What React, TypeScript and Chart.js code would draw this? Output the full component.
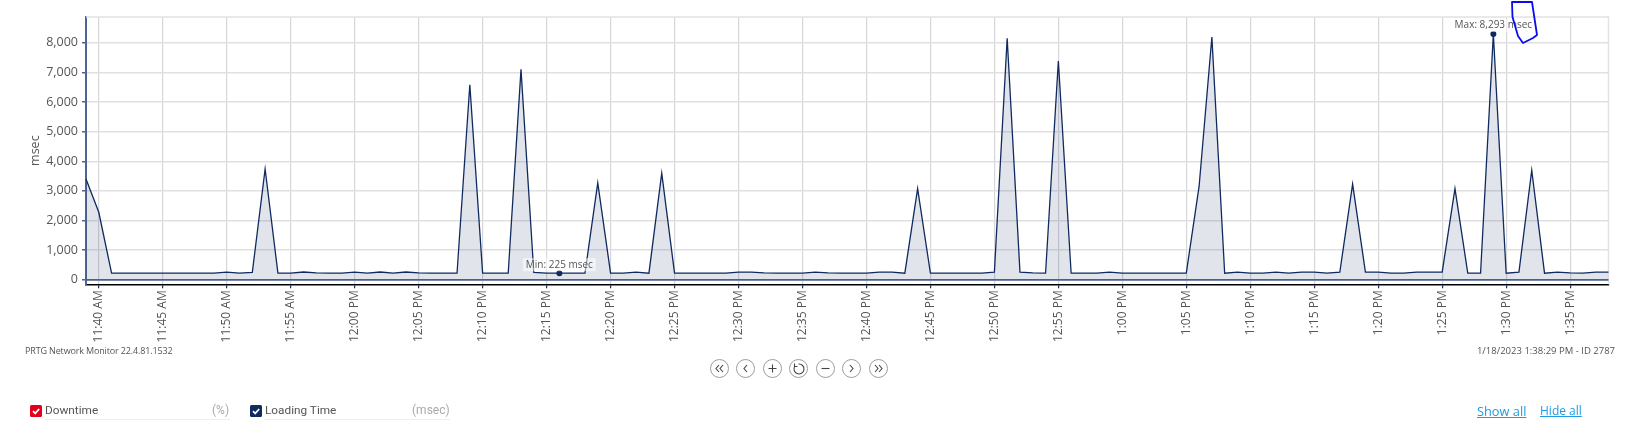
import React, { useEffect, useRef } from "react";
import { Chart, registerables } from "chart.js";

Chart.register(...registerables);

const FONT = '"Open Sans", "Noto Sans", sans-serif';
const LEGEND_FONT = 'Roboto, "Open Sans", sans-serif';

const startMinute = 11 * 60 + 39;
const loadingAM = [3400, 2280, 225, 225, 225, 225, 225, 225, 225, 225, 225, 260, 225, 250, 3740, 225, 228, 265, 232, 225, 225];
const loadingNoon = [
  262, 225, 265, 225, 265, 232, 225, 225, 225, 6580,
  225, 225, 225, 7100, 250, 230, 225, 225, 225, 3270,
  225, 228, 260, 225, 3600, 225, 225, 225, 225, 228,
  262, 262, 232, 225, 225, 225, 262, 232, 225, 225,
  225, 260, 262, 225, 3080, 225, 225, 225, 225, 228,
  262, 8150, 262, 232, 225, 7380, 225, 225, 228, 262,
];
const loadingOne = [
  228, 225, 225, 225, 225, 225, 3150, 8190, 225, 262,
  228, 225, 262, 228, 262, 262, 228, 262, 3230, 262,
  262, 228, 225, 262, 262, 262, 3080, 225, 225, 8293,
  225, 262, 3700, 225, 262, 232, 225, 262, 262,
];
const loadingTime = [...loadingAM, ...loadingNoon, ...loadingOne];
const downtime = loadingTime.map(() => 0);

const fmt = (m: number) => {
  const h = Math.floor(m / 60);
  const mm = String(m % 60).padStart(2, "0");
  return `${h > 12 ? h - 12 : h}:${mm} ${h >= 12 ? "PM" : "AM"}`;
};
const categories = loadingTime.map((_, i) => fmt(startMinute + i));
const xTickLabels = [
  "11:40 AM", "11:45 AM", "11:50 AM", "11:55 AM", "12:00 PM", "12:05 PM", "12:10 PM", "12:15 PM",
  "12:20 PM", "12:25 PM", "12:30 PM", "12:35 PM", "12:40 PM", "12:45 PM", "12:50 PM", "12:55 PM",
  "1:00 PM", "1:05 PM", "1:10 PM", "1:15 PM", "1:20 PM", "1:25 PM", "1:30 PM", "1:35 PM",
];
const yTickValues = [0, 1000, 2000, 3000, 4000, 5000, 6000, 7000, 8000];
const minAt = "12:16 PM";
const maxAt = "1:29 PM";
const minText = "Min: 225 msec";
const maxText = "Max: 8,293 msec";

const CANVAS_H = 370;

const markers = {
  id: "markers",
  beforeDatasetsDraw(c: any) {
    const { ctx, chartArea: a } = c;
    ctx.save();
    ctx.strokeStyle = "#e2e2e4";
    ctx.lineWidth = 1.5;
    ctx.beginPath();
    ctx.moveTo(a.left, a.top);
    ctx.lineTo(a.right, a.top);
    ctx.lineTo(a.right, a.bottom);
    ctx.stroke();
    ctx.restore();
  },
  afterDatasetsDraw(c: any) {
    const { ctx, scales } = c;
    const draw = (at: string, text: string) => {
      const i = categories.indexOf(at);
      const x = scales.x.getPixelForValue(i);
      const y = scales.y.getPixelForValue(loadingTime[i]);
      ctx.save();
      ctx.font = `10px ${FONT}`;
      const w = ctx.measureText(text).width;
      ctx.fillStyle = "rgba(255,255,255,0.55)";
      ctx.fillRect(x - w / 2 - 3, y - 15, w + 6, 13);
      ctx.fillStyle = "#555";
      ctx.textAlign = "center";
      ctx.textBaseline = "middle";
      ctx.fillText(text, x, y - 8.5);
      ctx.restore();
    };
    draw(minAt, minText);
    draw(maxAt, maxText);
  },
};

const radii = categories.map((c) => (c === minAt || c === maxAt ? 3 : 0));

function Chk({ color, x }: { color: string; x: number }) {
  return (
    <svg style={{ position: "absolute", left: x, top: 405 }} width={12} height={12}>
      <rect width={12} height={12} rx={1.5} fill={color} />
      <path d="M3 6.2 L5.2 8.4 L9.2 4" stroke="#fff" strokeWidth={1.7} fill="none" />
    </svg>
  );
}

const iconPaths = [
  "M9 6 L6 9.5 L9 13 M13 6 L10 9.5 L13 13",
  "M11 6 L8 9.5 L11 13",
  "M5.5 9.5 H13.5 M9.5 5.5 V13.5",
  "M6 7 A5 5 0 1 0 9.5 5 M5.5 4.5 V7.5 H8.5",
  "M5.5 9.5 H13.5",
  "M8 6 L11 9.5 L8 13",
  "M6 6 L9 9.5 L6 13 M10 6 L13 9.5 L10 13",
];
const btnLeft = [709.5, 736, 762.5, 789, 815.5, 842, 868.5];

const abs = (o: React.CSSProperties): React.CSSProperties => ({ position: "absolute", whiteSpace: "nowrap", fontFamily: FONT, ...o });

export default function App() {
  const ref = useRef<HTMLCanvasElement>(null);
  useEffect(() => {
    const chart = new Chart(ref.current!, {
      type: "line",
      data: {
        labels: categories,
        datasets: [
          { label: "Loading Time", data: loadingTime, borderColor: "#0f2a5f", borderWidth: 1.3, backgroundColor: "rgba(24,48,104,0.13)", fill: "origin", tension: 0, pointRadius: radii, pointBackgroundColor: "#0f2a5f", pointBorderWidth: 0 },
          { label: "Downtime", data: downtime, borderColor: "#4f6490", borderWidth: 1.8, fill: false, pointRadius: 0, tension: 0 },
        ],
      },
      options: {
        animation: false,
        responsive: false,
        layout: { padding: { top: 17, right: 36.5, left: 0, bottom: 0 } },
        plugins: { legend: { display: false }, tooltip: { enabled: false } },
        scales: {
          x: {
            type: "category",
            afterBuildTicks: (s: any) => {
              s.ticks = xTickLabels.map((l) => ({ value: categories.indexOf(l), label: l }));
            },
            afterFit: (s: any) => { s.height = CANVAS_H - 284.3; },
            grid: { color: "#d6d6d9", lineWidth: 1.2, tickColor: "#1c2f5c", tickLength: 4 },
            border: { color: "#000", width: 1.6 },
            ticks: { autoSkip: false, maxRotation: 90, minRotation: 90, padding: 2, color: "#555", font: { family: FONT, size: 12 }, callback: function (this: any, v: any) { return categories[v]; } },
          },
          y: {
            min: -150,
            max: 8866,
            afterBuildTicks: (s: any) => { s.ticks = yTickValues.map((value) => ({ value })); },
            afterFit: (s: any) => { s.width = 86; },
            title: { display: true, text: "msec", color: "#555", font: { family: FONT, size: 12.5 }, padding: { top: 28, bottom: 0 } },
            grid: { color: "#e0e0e2", lineWidth: 1.5, tickColor: "#4f6490", tickLength: 4 },
            border: { color: "#4f6490", width: 2 },
            ticks: { padding: 4, color: "#555", font: { family: FONT, size: 12.5 }, callback: (v: any) => Number(v).toLocaleString("en-US") },
          },
        },
      },
      plugins: [markers],
    } as any);
    return () => chart.destroy();
  }, []);

  return (
    <div style={{ position: "fixed", left: 0, top: 0, width: 1645, height: 446, background: "#fff", overflow: "hidden" }}>
      <canvas ref={ref} width={1645} height={CANVAS_H} style={{ position: "absolute", left: 0, top: 0, width: 1645, height: CANVAS_H }} />
      <svg style={{ position: "absolute", left: 0, top: 0, pointerEvents: "none" }} width={1645} height={60}>
        <path d="M1512 2 L1532 2 L1537 35 L1533 38 L1523 43 L1518 36 L1512.5 17 Z" fill="none" stroke="#0b0bf0" strokeWidth={1.8} strokeLinejoin="round" />
      </svg>
      <div style={abs({ left: 25, top: 344, fontSize: 9, letterSpacing: -0.15, color: "#555" })}>PRTG Network Monitor 22.4.81.1532</div>
      <div style={abs({ right: 30, top: 344, fontSize: 9.5, color: "#555" })}>1/18/2023 1:38:29 PM - ID 2787</div>
      {btnLeft.map((x, i) => (
        <svg key={i} style={{ position: "absolute", left: x, top: 359 }} width={19} height={19} viewBox="0 0 19 19">
          <circle cx={9.5} cy={9.5} r={9} fill="#fff" stroke="#9a8f8f" strokeWidth={0.9} />
          <path d={iconPaths[i]} fill="none" stroke="#444" strokeWidth={1.1} />
        </svg>
      ))}
      <Chk color="#e3001b" x={29.5} />
      <div style={abs({ left: 45, top: 403, fontSize: 11.8, color: "#555", fontFamily: LEGEND_FONT })}>Downtime</div>
      <div style={abs({ left: 212, top: 403, fontSize: 12, color: "#aaa", fontFamily: LEGEND_FONT })}>(%)</div>
      <div style={{ position: "absolute", left: 45, top: 419, width: 185, height: 1, background: "#eee" }} />
      <Chk color="#0f2a5f" x={250} />
      <div style={abs({ left: 265, top: 403, fontSize: 11.8, color: "#555", fontFamily: LEGEND_FONT })}>Loading Time</div>
      <div style={abs({ left: 412, top: 403, fontSize: 12, color: "#aaa", fontFamily: LEGEND_FONT })}>(msec)</div>
      <div style={{ position: "absolute", left: 265, top: 419, width: 185, height: 1, background: "#eee" }} />
      <div style={abs({ left: 1477, top: 402, fontSize: 12.8, color: "#1e9be0", textDecoration: "underline" })}>Show all</div>
      <div style={abs({ left: 1540, top: 402, fontSize: 12, color: "#1e9be0", textDecoration: "underline" })}>Hide all</div>
    </div>
  );
}
